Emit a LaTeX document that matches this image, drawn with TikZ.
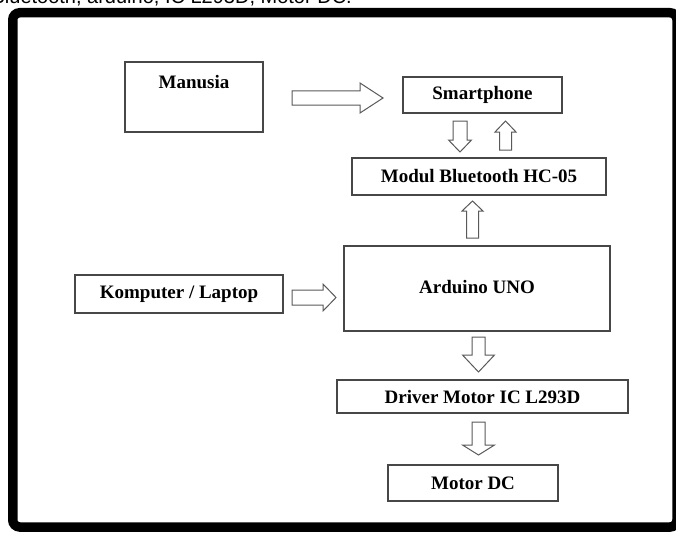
\documentclass[tikz,border=0pt]{standalone}
\usepackage{fontspec}
\setmainfont{Liberation Serif}
\newfontfamily\captionfont{Liberation Sans}
\usetikzlibrary{calc}

% hollow block arrow: start, tip, shaft half width, head half width, head length
\newcommand{\blockarrow}[5]{%
  \coordinate (ba_base) at ($(#2)!#5!(#1)$);
  \draw[hollowarrow] ($(#1)!#3!90:(#2)$) -- ($(ba_base)!#3!-90:(#1)$)
    -- ($(ba_base)!#4!-90:(#1)$) -- (#2) -- ($(ba_base)!#4!90:(#1)$)
    -- ($(ba_base)!#3!90:(#1)$) -- ($(#1)!#3!-90:(#2)$) -- cycle;
}

\begin{document}
\begin{tikzpicture}[x=1pt,y=-1pt]
\tikzset{
  blockbox/.style={draw=black!72,line width=1.2pt,inner sep=0pt,font=\bfseries\fontsize{19}{22}\selectfont},
  hollowarrow/.style={draw=black!65,line width=1pt,line join=miter,fill=white},
  frameline/.style={line width=9.5pt,rounded corners=7pt}
}
\useasboundingbox (0,0) rectangle (676,532);
\clip (0,0) rectangle (676,532);

% caption line cut off at the top
\node[anchor=base east,inner sep=0pt,font=\captionfont\fontsize{20}{24}\selectfont] (n_caption) at (352,4) {Bluetooth, arduino, IC L293D, Motor DC.};

\draw[frameline] (12.75,12.75) rectangle (677,527);

% blocks
\node[blockbox,minimum width=138pt,minimum height=70pt,
  label={[anchor=north,label distance=-10.5pt,inner sep=3pt,font=\bfseries\fontsize{19}{22}\selectfont]north:Manusia}] (n_manusia) at (194,97) {};
\node[blockbox,minimum width=159pt,minimum height=36pt] (n_smartphone) at (482.5,95) {Smartphone};
\node[blockbox,minimum width=254pt,minimum height=37pt] (n_modul) at (479,176.5) {Modul Bluetooth HC-05};
\node[blockbox,minimum width=266pt,minimum height=85pt] (n_arduino) at (477,288.5) {\raisebox{2.5pt}{Arduino UNO}};
\node[blockbox,minimum width=208pt,minimum height=38pt] (n_komputer) at (179,294) {Komputer / Laptop};
\node[blockbox,minimum width=291pt,minimum height=33pt] (n_driver) at (482.5,396.5) {Driver Motor IC L293D};
\node[blockbox,minimum width=170pt,minimum height=36pt] (n_motor) at (473,483) {Motor DC};

% arrow ends
\coordinate (a_man_s) at (292,98);     \coordinate (a_man_t) at (383,98);
\coordinate (a_down_s) at (460,121);   \coordinate (a_down_t) at (460,152);
\coordinate (a_up_s) at (505.5,150);   \coordinate (a_up_t) at (505.5,121);
\coordinate (a_ard_s) at (472.5,238);  \coordinate (a_ard_t) at (472.5,201);
\coordinate (a_kom_s) at (292,297.5);  \coordinate (a_kom_t) at (336,297.5);
\coordinate (a_drv_s) at (478.5,337);  \coordinate (a_drv_t) at (478.5,372);
\coordinate (a_mot_s) at (478.5,422);  \coordinate (a_mot_t) at (478.5,455);

\blockarrow{a_man_s}{a_man_t}{7pt}{15pt}{23pt}
\blockarrow{a_down_s}{a_down_t}{7pt}{11.5pt}{12pt}
\blockarrow{a_up_s}{a_up_t}{6pt}{10.5pt}{11pt}
\blockarrow{a_ard_s}{a_ard_t}{6pt}{10.5pt}{10pt}
\blockarrow{a_kom_s}{a_kom_t}{7.5pt}{13.5pt}{13pt}
\blockarrow{a_drv_s}{a_drv_t}{6.5pt}{16pt}{17pt}
\blockarrow{a_mot_s}{a_mot_t}{6.5pt}{16pt}{10pt}
\end{tikzpicture}
\end{document}
